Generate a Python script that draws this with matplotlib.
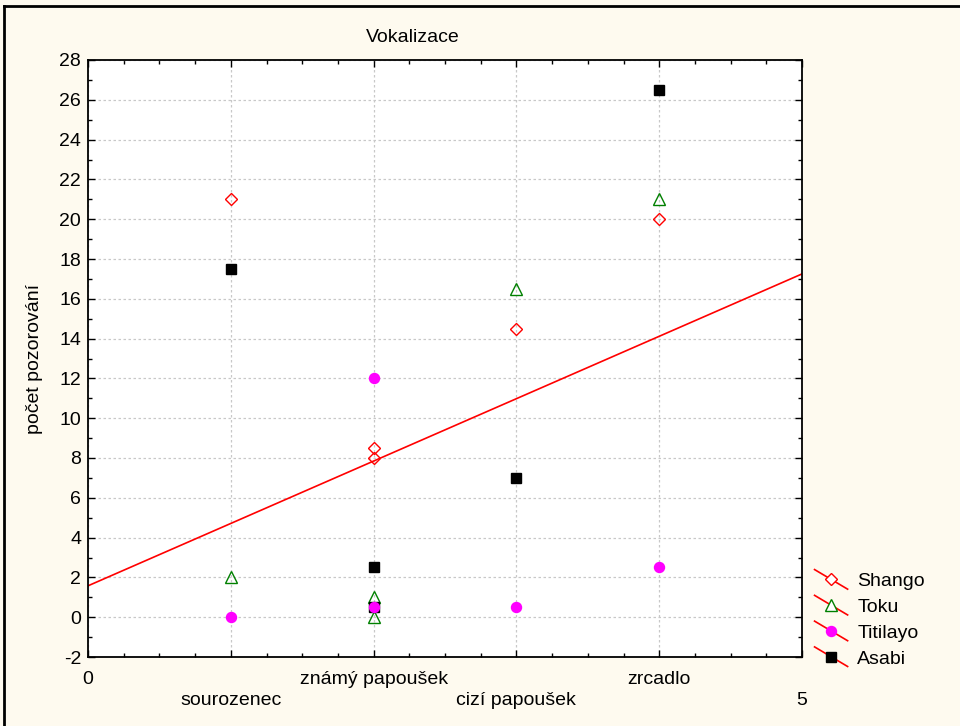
import numpy as np
import matplotlib
matplotlib.use("Agg")
import matplotlib.pyplot as plt
from matplotlib.ticker import MultipleLocator, AutoMinorLocator
from matplotlib.lines import Line2D
from matplotlib.legend_handler import HandlerLine2D

plt.rcParams['font.family'] = ['Liberation Sans', 'DejaVu Sans']
plt.rcParams['axes.unicode_minus'] = False

categories = ["0", "sourozenec", "známý papoušek", "cizí papoušek", "zrcadlo", "5"]
x_pos = [1, 2, 2, 3, 4]
shango = [21, 8.5, 8, 14.5, 20]
toku = [2, 1, 0, 16.5, 21]
titilayo = [0, 12, 0.5, 0.5, 2.5]
asabi = [17.5, 2.5, 0.5, 7, 26.5]

FS = 14
bg = '#FEFAEF'
fig = plt.figure(figsize=(9.6, 7.26), dpi=100, facecolor=bg)
ax = fig.add_axes([88/960, 1-657/726, (802-88)/960, (657-60)/726])
ax.set_facecolor('white')

ax.set_xlim(0, 5)
ax.set_ylim(-2, 28)
ax.yaxis.set_major_locator(MultipleLocator(2))
ax.yaxis.set_minor_locator(AutoMinorLocator(2))
ax.set_xticks(range(6))
ax.xaxis.set_minor_locator(AutoMinorLocator(4))
labels = [c if i % 2 == 0 else "\n" + c for i, c in enumerate(categories)]
ax.set_xticklabels(labels, fontsize=FS, linespacing=1.3)
ax.tick_params(axis='y', labelsize=FS)
ax.tick_params(which='both', direction='in', top=True, right=True, width=1, color='black')
ax.tick_params(which='major', length=5)
ax.tick_params(which='minor', length=3)
ax.tick_params(axis='x', pad=10)
ax.tick_params(axis='y', pad=5)
for s in ax.spines.values():
    s.set_linewidth(1.3)

ax.grid(True, which='major', color='#c8c8c8', linestyle=(0, (2, 2)), linewidth=0.9)
ax.set_axisbelow(True)

# regression line through all points
all_x = np.array(x_pos * 4, dtype=float)
all_y = np.array(shango + toku + titilayo + asabi, dtype=float)
slope, intercept = np.polyfit(all_x, all_y, 1)
xl = np.array([0, 5])
ax.plot(xl, intercept + slope * xl, color='red', linewidth=1.2, zorder=2)

ax.plot(x_pos, shango, linestyle='none', marker='D', markersize=6.5, markerfacecolor='none',
        markeredgecolor='red', markeredgewidth=1, zorder=3)
ax.plot(x_pos, toku, linestyle='none', marker='^', markersize=8.5, markerfacecolor='none',
        markeredgecolor='green', markeredgewidth=1, zorder=3)
ax.plot(x_pos, asabi, linestyle='none', marker='s', markersize=7, markerfacecolor='black',
        markeredgecolor='black', zorder=3)
ax.plot(x_pos, titilayo, linestyle='none', marker='o', markersize=7.2, markerfacecolor='magenta',
        markeredgecolor='magenta', zorder=4)

handles = [
    Line2D([], [], marker='D', markersize=6.5, markerfacecolor='white', markeredgecolor='red'),
    Line2D([], [], marker='^', markersize=8.5, markerfacecolor='white', markeredgecolor='green'),
    Line2D([], [], marker='o', markersize=7.2, markerfacecolor='magenta', markeredgecolor='magenta'),
    Line2D([], [], marker='s', markersize=7, markerfacecolor='black', markeredgecolor='black'),
]


class SlantHandler(HandlerLine2D):
    def create_artists(self, legend, orig_handle, xdescent, ydescent, width, height, fontsize, trans):
        x0, x1 = -xdescent, -xdescent + width
        yc = height / 2 - ydescent
        line = Line2D([x0, x1], [yc + height * 0.72, yc - height * 0.72], color='red', lw=1.2)
        line.set_transform(trans)
        mk = Line2D([(x0 + x1) / 2], [yc], linestyle='none', marker=orig_handle.get_marker(),
                    markersize=orig_handle.get_markersize(),
                    markerfacecolor=orig_handle.get_markerfacecolor(),
                    markeredgecolor=orig_handle.get_markeredgecolor())
        mk.set_transform(trans)
        return [line, mk]


leg = fig.legend(handles, ["Shango", "Toku", "Titilayo", "Asabi"], loc='upper left',
                 bbox_to_anchor=(799/960, 1-557/726), frameon=False, fontsize=FS,
                 handlelength=1.7, handletextpad=0.5, labelspacing=0.42, borderpad=0.3,
                 handler_map={Line2D: SlantHandler()})

ax.set_ylabel("počet pozorování", fontsize=FS, labelpad=12)
fig.text(413/960, 1-37/726, "Vokalizace", ha='center', va='center', fontsize=FS)

# outer border
fig.add_artist(Line2D([4/960, 4/960], [0, 1-6/726], color='black', lw=2, transform=fig.transFigure))
fig.add_artist(Line2D([4/960, 1], [1-6/726, 1-6/726], color='black', lw=2, transform=fig.transFigure))

fig.savefig("out.png", dpi=100, facecolor=bg)
